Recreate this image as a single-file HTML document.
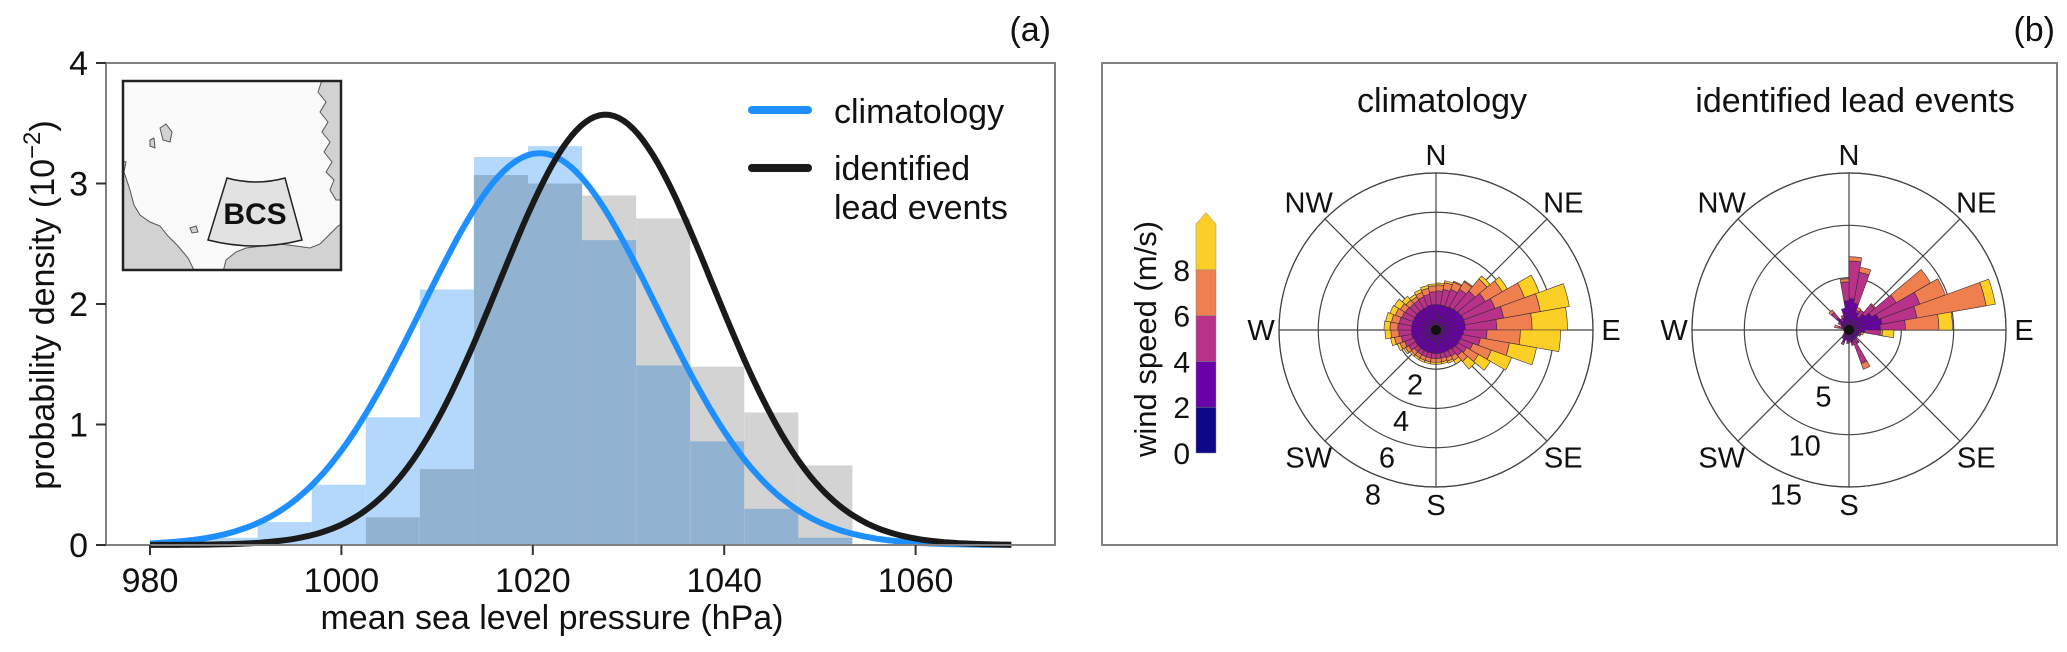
<!DOCTYPE html>
<html><head><meta charset="utf-8"><style>
html,body{margin:0;padding:0;background:#fff;}
svg{display:block;font-family:"Liberation Sans",Arial,sans-serif;}
</style></head><body>
<svg id="fig" width="2067" height="652" viewBox="0 0 2067 652" xmlns="http://www.w3.org/2000/svg">
<g id="panelA"></g>
<g id="panelB"></g>
</svg>
<script>
// ---------- Panel (a) data ----------
const binStart = 985.6;
const binWidth = 5.65;
const climHeights = [0.06,0.19,0.50,1.06,2.12,3.22,3.31,2.53,1.49,0.86,0.30,0.06];
const leadHeights = [0,0,0,0.23,0.63,3.07,3.00,2.90,2.71,1.48,1.10,0.66];
const climFit = [1020.7, 12.27];   // mean, sd
const leadFit = [1027.6, 11.17];
const xTicks = [980,1000,1020,1040,1060];
const yTicks = [0,1,2,3,4];

// ---------- Panel (b) data (cumulative frequency % at end of each speed class) ----------
const bearings = [5,15,25,35,45,55,65,75,85,95,105,115,125,135,145,155,165,175,185,195,205,215,225,235,245,255,265,275,285,295,305,315,325,335,345,355];
const climTo2 = [0.25,0.25,0.25,0.25,0.25,0.25,0.25,0.25,0.25,0.25,0.25,0.25,0.25,0.25,0.25,0.25,0.25,0.25,0.25,0.25,0.25,0.25,0.25,0.25,0.25,0.25,0.25,0.25,0.25,0.25,0.25,0.25,0.25,0.25,0.25,0.25];
const climTo4 = [1.3,1.3,1.3,1.35,1.4,1.45,1.5,1.5,1.5,1.4,1.35,1.3,1.3,1.25,1.2,1.2,1.2,1.2,1.2,1.2,1.2,1.2,1.2,1.2,1.2,1.25,1.25,1.25,1.25,1.25,1.25,1.25,1.25,1.25,1.3,1.3];
const climTo6 = [2.0,2.1,2.2,2.4,2.6,2.9,3.2,3.5,3.1,2.6,2.3,2.0,1.8,1.7,1.55,1.5,1.45,1.45,1.45,1.45,1.45,1.45,1.45,1.6,1.7,1.8,1.9,1.95,1.9,1.85,1.8,1.75,1.75,1.8,1.85,1.95];
const climTo8 = [2.3,2.45,2.6,2.85,3.4,3.9,4.8,5.4,4.9,4.3,3.8,3.0,2.5,2.1,1.8,1.7,1.65,1.65,1.65,1.65,1.65,1.65,1.65,1.8,1.95,2.15,2.3,2.35,2.3,2.2,2.1,2.0,1.95,2.05,2.15,2.25];
const climTotal = [2.4,2.55,2.65,2.9,3.6,4.2,5.6,6.9,6.7,6.35,5.2,4.1,3.2,2.6,2.0,1.8,1.75,1.75,1.75,1.75,1.75,1.75,1.75,1.9,2.1,2.35,2.6,2.65,2.6,2.5,2.45,2.25,2.1,2.2,2.3,2.35];
const leadTo2 = [0.5,0.5,0.4,0.4,0.4,0.5,0.5,0.5,0.5,0.4,0.3,0.3,0.3,0.3,0.3,0.3,0.3,0.3,0.3,0.3,0.3,0.3,0.3,0.3,0.2,0.2,0.2,0.2,0.2,0.2,0.3,0.3,0.3,0.3,0.4,0.5];
const leadTo4 = [3.0,2.6,1.8,1.5,2.0,2.5,3.0,3.2,3.0,1.5,1.0,1.0,0.9,0.9,1.0,1.0,1.2,1.0,1.1,0.9,1.2,0.8,0.7,0.5,0.4,0.3,0.4,0.5,0.6,0.6,0.9,1.5,1.0,1.2,2.1,2.8];
const leadTo6 = [6.6,5.6,2.0,2.2,3.2,5.2,7.2,6.6,5.4,3.0,1.2,1.2,1.0,1.0,1.4,3.4,1.5,1.2,1.3,1.0,1.5,1.0,0.8,0.6,0.5,0.4,0.5,0.6,1.0,0.8,1.2,2.2,1.3,1.5,2.1,4.6];
const leadTo8 = [7.0,6.1,2.3,2.2,3.3,9.0,9.8,13.3,8.6,3.2,1.2,1.2,1.0,1.0,1.5,4.0,1.5,1.2,1.3,1.0,1.5,1.0,0.8,0.6,0.5,0.4,0.5,0.6,1.4,0.8,1.2,2.5,1.3,1.5,2.1,4.9];
const leadTotal = [7.0,6.1,2.3,2.2,3.3,9.0,9.8,14.2,9.9,4.3,1.4,1.2,1.0,1.0,1.5,4.0,1.5,1.2,1.3,1.0,1.5,1.0,0.8,0.6,0.5,0.4,0.5,0.6,1.4,0.8,1.2,2.5,1.3,1.5,2.1,4.9];
const climRings = [2,4,6,8];
const leadRings = [5,10,15];
const cbTicks = [0,2,4,6,8];
const speedColors = ["#0d0887","#6a00a8","#b83289","#ef7f4f","#fccf26"];

const NS = "http://www.w3.org/2000/svg";
function mk(tag, attrs, parent, text){
  const e = document.createElementNS(NS, tag);
  for (const k in attrs) e.setAttribute(k, attrs[k]);
  if (text !== undefined) e.textContent = text;
  parent.appendChild(e);
  return e;
}
const A = document.getElementById('panelA');
const B = document.getElementById('panelB');

// ---------- Panel (a) axes ----------
const ax = {l:106, r:1055, t:63, b:545};
const xS = v => 150 + (v-980)*9.57;
const yS = v => ax.b - v*120.5;

// bars
for (let i=0;i<climHeights.length;i++){
  const x0 = xS(binStart+i*binWidth), x1 = xS(binStart+(i+1)*binWidth);
  const hc = climHeights[i], hl = leadHeights[i];
  if (hc>0){
    const r = mk('rect',{x:x0,y:yS(hc),width:x1-x0,height:yS(0)-yS(hc),fill:'#b3d8fb'},A);
    
    
  }
  if (hl>0){
    const r = mk('rect',{x:x0,y:yS(hl),width:x1-x0,height:yS(0)-yS(hl),fill:'#d3d3d3'},A);
    
    
  }
  const m = Math.min(hc,hl);
  if (m>0){
    const r = mk('rect',{x:x0,y:yS(m),width:x1-x0,height:yS(0)-yS(m),fill:'#92b2d2'},A);
    
    
  }
}
// fitted curves
function curve(fit, color, name){
  let d='';
  for (let v=980; v<=1070.001; v+=0.5){
    const p = 100*Math.exp(-0.5*Math.pow((v-fit[0])/fit[1],2))/(fit[1]*Math.sqrt(2*Math.PI));
    d += (d?'L':'M')+xS(v).toFixed(1)+','+yS(p).toFixed(1);
  }
  const e = mk('path',{d:d,fill:'none',stroke:color,'stroke-width':6,'stroke-linejoin':'round'},A);
  
  
}
curve(climFit,'#1e8fff','climatology-fit-curve');
curve(leadFit,'#1a1a1a','lead-events-fit-curve');

// spines
{
  const s = mk('rect',{x:ax.l,y:ax.t,width:ax.r-ax.l,height:ax.b-ax.t,fill:'none',stroke:'#808080','stroke-width':2},A);
  
  
}
// ticks
xTicks.forEach(v=>{
  mk('line',{x1:xS(v),x2:xS(v),y1:ax.b,y2:ax.b+10,stroke:'#333','stroke-width':2},A);
  const t = mk('text',{x:xS(v),y:592,'font-size':34,'text-anchor':'middle',fill:'#111'},A,String(v));
  
  
});
yTicks.forEach(v=>{
  mk('line',{x1:ax.l-10,x2:ax.l,y1:yS(v),y2:yS(v),stroke:'#333','stroke-width':2},A);
  const t = mk('text',{x:88,y:yS(v)+12,'font-size':34,'text-anchor':'end',fill:'#111'},A,String(v));
  
  
});
</script>
<script>
// static labels panel (a)
(function(){
  const A = document.getElementById('panelA');
  A.insertAdjacentHTML('beforeend', `
  <text x="552" y="629" font-size="34" text-anchor="middle" fill="#111">mean sea level pressure (hPa)</text>
  <text transform="translate(54,305) rotate(-90)" font-size="34" text-anchor="middle" fill="#111">probability density (10<tspan font-size="24" dy="-14">−2</tspan><tspan dy="14">)</tspan></text>
  <text x="1051" y="41" font-size="34" text-anchor="end" fill="#111">(a)</text>
  <g>
    <line x1="752" y1="110" x2="808" y2="110" stroke="#1e8fff" stroke-width="8" stroke-linecap="round"/>
    <text x="834" y="123" font-size="34" fill="#111">climatology</text>
    <line x1="752" y1="168" x2="808" y2="168" stroke="#1a1a1a" stroke-width="8" stroke-linecap="round"/>
    <text x="834" y="180" font-size="34" fill="#111">identified</text>
    <text x="834" y="219" font-size="34" fill="#111">lead events</text>
  </g>
  <g>
    <clipPath id="insetClip"><rect x="123" y="81" width="218" height="189"/></clipPath>
    <rect x="123" y="81" width="218" height="189" fill="#fafafa"/>
    <g clip-path="url(#insetClip)" fill="#d2d2d2" stroke="#555" stroke-width="1">
      <path d="M118,160 L126,162 L124,172 L130,190 L134,205 L140,215 L150,222 L160,226 L168,236 L178,246 L188,258 L195,272 L118,272 Z"/>
      <path d="M223,272 L226,260 L236,252 L246,248 L262,246 L280,244 L296,246 L310,248 L320,244 L330,234 L338,226 L345,222 L345,272 Z"/>
      <path d="M345,80 L322,80 L318,92 L326,102 L320,112 L328,122 L322,132 L330,142 L324,152 L332,162 L326,172 L334,180 L330,190 L336,200 L345,200 Z"/>
      <path d="M160,128 L166,124 L172,132 L170,142 L163,140 Z"/>
      <path d="M150,140 L154,138 L155,148 L150,146 Z"/>
      <path d="M190,228 L196,226 L198,232 L192,233 Z"/>
    </g>
    <path d="M227,178 Q256,186 285,178 L302,240 Q255,252 208,240 Z" fill="#e2e2e2" stroke="#222" stroke-width="1.5"/>
    <text x="255" y="224" font-size="30" font-weight="bold" text-anchor="middle" fill="#111">BCS</text>
    <rect x="123" y="81" width="218" height="189" fill="none" stroke="#222" stroke-width="2.5"/>
  </g>`);
})();
</script>
<script>
// ---------- Panel (b) ----------
(function(){
  const B = document.getElementById('panelB');
  function mk(tag, attrs, parent, text){
    const e = document.createElementNS("http://www.w3.org/2000/svg", tag);
    for (const k in attrs) e.setAttribute(k, attrs[k]);
    if (text !== undefined) e.textContent = text;
    parent.appendChild(e);
    return e;
  }
  const frame = mk('rect',{x:1102,y:63,width:955,height:482,fill:'none',stroke:'#808080','stroke-width':2},B);
  
  
  const pl = mk('text',{x:2055,y:41,'font-size':34,'text-anchor':'end',fill:'#111'},B,'(b)');
  
  

  const R = 157;
  function pt(cx,cy,r,b){const a=b*Math.PI/180;return [cx+r*Math.sin(a), cy-r*Math.cos(a)];}
  function wedge(cx,cy,r0,r1,b0,b1){
    const p1=pt(cx,cy,r0,b0),p2=pt(cx,cy,r1,b0),p3=pt(cx,cy,r1,b1),p4=pt(cx,cy,r0,b1);
    return `M${p1[0].toFixed(2)},${p1[1].toFixed(2)}L${p2[0].toFixed(2)},${p2[1].toFixed(2)}A${r1},${r1} 0 0 1 ${p3[0].toFixed(2)},${p3[1].toFixed(2)}L${p4[0].toFixed(2)},${p4[1].toFixed(2)}`+(r0>0?`A${r0},${r0} 0 0 0 ${p1[0].toFixed(2)},${p1[1].toFixed(2)}`:'')+'Z';
  }
  function rose(cx, title, rings, maxV, cum, name){
    const cy = 330;
    const g = mk('g',{},B);
    
    
    const t = mk('text',{x:cx+6,y:112,'font-size':34,'text-anchor':'middle',fill:'#111'},g,title);
    
    
    const rS = v => v/maxV*R;
    // grid
    rings.forEach(v=>{ mk('circle',{cx:cx,cy:cy,r:rS(v),fill:'none',stroke:'#444','stroke-width':1.2},g); });
    mk('circle',{cx:cx,cy:cy,r:R,fill:'none',stroke:'#444','stroke-width':1.2},g);
    for (let b=0;b<360;b+=45){ const p=pt(cx,cy,R,b); mk('line',{x1:cx,y1:cy,x2:p[0],y2:p[1],stroke:'#444','stroke-width':1.2},g); }
    // bars
    for (let i=0;i<bearings.length;i++){
      let prev=0;
      for (let k=0;k<5;k++){
        const v = cum[k][i];
        if (v>prev){
          const p = mk('path',{d:wedge(cx,cy,rS(prev),rS(v),bearings[i]-5,bearings[i]+5),fill:speedColors[k],stroke:'#3a2a3a','stroke-width':0.6},g);
          
          
          prev=v;
        }
      }
    }
    mk('circle',{cx:cx,cy:cy,r:5,fill:'#111'},g);
    // compass labels
    const dirs=['N','NE','E','SE','S','SW','W','NW'];
    dirs.forEach((d,j)=>{
      const b=j*45, rr = (j%2===0)?175:180;
      const p=pt(cx,cy,rr,b);
      const tx = mk('text',{x:p[0],y:p[1]+10,'font-size':29,'text-anchor':'middle',fill:'#111'},g,d);
      
      
    });
    rings.forEach(v=>{
      const p=pt(cx,cy,rS(v)+19,201);
      const tx = mk('text',{x:p[0],y:p[1]+10,'font-size':29,'text-anchor':'middle',fill:'#111'},g,String(v));
      
      
    });
  }
  rose(1436,'climatology',climRings,8,[climTo2,climTo4,climTo6,climTo8,climTotal],'climatology-wind-rose');
  rose(1849,'identified lead events',leadRings,15,[leadTo2,leadTo4,leadTo6,leadTo8,leadTotal],'lead-events-wind-rose');

  // colorbar
  const cb = mk('g',{},B);
  
  
  const cy0=453, per=22.9, cx0=1196, w=20;
  for (let k=0;k<4;k++){
    mk('rect',{x:cx0,y:cy0-(cbTicks[k+1])*per,width:w,height:2*per,fill:speedColors[k],stroke:'#888','stroke-width':0.5},cb);
  }
  mk('path',{d:`M${cx0},${cy0-8*per} L${cx0},${cy0-10*per} L${cx0+w/2},${cy0-10.5*per} L${cx0+w},${cy0-10*per} L${cx0+w},${cy0-8*per} Z`,fill:speedColors[4],stroke:'#888','stroke-width':0.5},cb);
  cbTicks.forEach(v=>{
    const t = mk('text',{x:1190,y:cy0-v*per+11,'font-size':30,'text-anchor':'end',fill:'#111'},cb,String(v));
    
    
  });
  const ct = mk('text',{transform:'translate(1156,339) rotate(-90)','font-size':31,'text-anchor':'middle',fill:'#111'},cb,'wind speed (m/s)');
  
  
})();
</script>
</body></html>
